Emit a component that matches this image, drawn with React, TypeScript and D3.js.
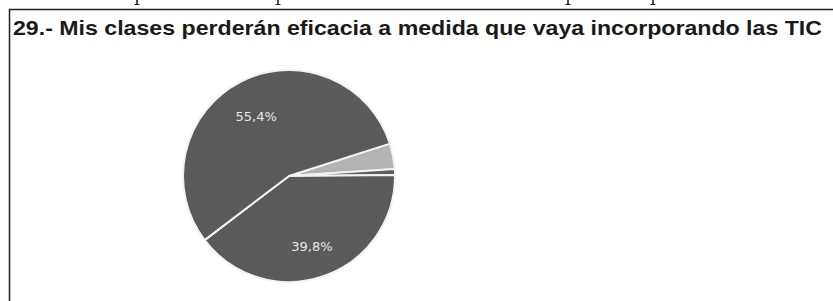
import React from "react";
import * as d3 from "d3";

const title = "29.- Mis clases perderán eficacia a medida que vaya incorporando las TIC";
const categories = ["Otra", "NS/NC", "En desacuerdo", "De acuerdo"];
const values = [3.9, 0.9, 39.8, 55.4];
const labels = ["", "", "39,8%", "55,4%"];
const colors = ["#b3b3b3", "#5c5c5c", "#5a5a5a", "#5a5a5a"];
const artifactX = [137, 278, 568, 653];

export default function App() {
  const W = 833, H = 301;
  const cx = 289, cy = 176, r = 106;
  const pie = d3.pie<number>().sort(null).value((d) => d).startAngle((72.2 * Math.PI) / 180).endAngle((72.2 * Math.PI) / 180 + 2 * Math.PI);
  const arcs = pie(values);
  const arc = d3.arc<d3.PieArcDatum<number>>().innerRadius(0).outerRadius(r);
  const labelArc = d3.arc<d3.PieArcDatum<number>>().innerRadius(r * 0.67).outerRadius(r * 0.67);
  return (
    <svg width={W} height={H} style={{ position: "absolute", left: 0, top: 0, background: "#fff" }}>
      <rect x={0} y={0} width={W} height={H} fill="#fff" />
      {artifactX.map((x, i) => (
        <g key={i} fill="#222">
          <rect x={x - 0.8} y={0} width={1.6} height={5} />
          <rect x={x - 2.5} y={4} width={5} height={1} />
        </g>
      ))}
      <line x1={9} y1={9.5} x2={W} y2={9.5} stroke="#222" strokeWidth={1.5} />
      <line x1={9.5} y1={9} x2={9.5} y2={H} stroke="#222" strokeWidth={1.5} />
      <text x={13} y={35} fontFamily="'Liberation Sans', Arial, sans-serif" fontWeight="bold" fontSize={20.5} fill="#1a1a1a" textLength={809} lengthAdjust="spacingAndGlyphs">
        {title}
      </text>
      <g transform={`translate(${cx},${cy})`}>
        {arcs.map((a, i) => (
          <path key={categories[i]} d={arc(a) || ""} fill={colors[i]} stroke="#f2f2f2" strokeWidth={2} strokeLinejoin="round" />
        ))}
        {arcs.map((a, i) => {
          if (!labels[i]) return null;
          const [lx, ly] = labelArc.centroid(a);
          return (
            <text key={"l" + i} x={lx} y={ly} dy={3} textAnchor="middle" dominantBaseline="central" fontFamily="'DejaVu Sans', sans-serif" fontSize={13} fill="#e6e6e6">
              {labels[i]}
            </text>
          );
        })}
      </g>
    </svg>
  );
}
